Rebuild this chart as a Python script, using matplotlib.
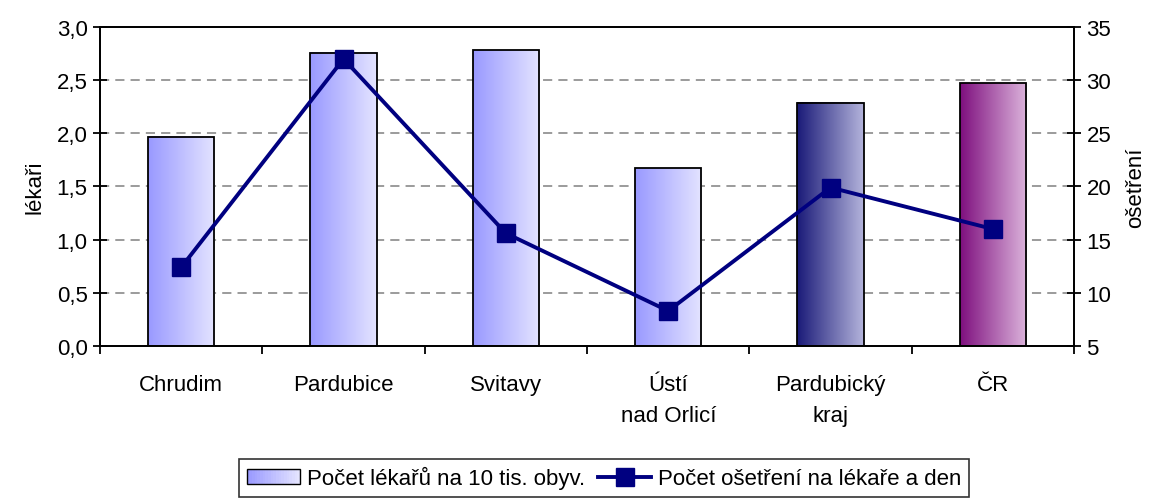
import numpy as np
import matplotlib.pyplot as plt
from matplotlib.colors import LinearSegmentedColormap
from matplotlib.patches import Rectangle
from matplotlib.legend_handler import HandlerBase
from matplotlib.lines import Line2D

plt.rcParams['font.family'] = ['Liberation Sans', 'DejaVu Sans']
plt.rcParams['font.size'] = 16

# data
categories = ['Chrudim', 'Pardubice', 'Svitavy', 'Ústí\nnad Orlicí', 'Pardubický\nkraj', 'ČR']
lekari = [1.97, 2.76, 2.78, 1.67, 2.29, 2.47]
osetreni = [12.4, 32.0, 15.6, 8.3, 19.9, 16.0]

# gradient colours (left -> right) per bar
light = ('#9999ff', '#e4e4ff')
grads = [light, light, light, light, ('#1a1a78', '#b4b4dc'), ('#7e0f7e', '#dcb4dc')]

fig = plt.figure(figsize=(11.58, 5.02), dpi=100)
ax = fig.add_axes([0.0864, 0.3088, 0.8411, 0.6354])
ax2 = ax.twinx()

x = np.arange(len(categories))
w = 0.41
grad = np.linspace(0, 1, 256).reshape(1, -1)
for xi, v, (c0, c1) in zip(x, lekari, grads):
    cmap = LinearSegmentedColormap.from_list('g', [c0, c1])
    ax.imshow(grad, cmap=cmap, extent=[xi - w / 2, xi + w / 2, 0, v],
              aspect='auto', zorder=2, interpolation='bilinear')
    ax.add_patch(Rectangle((xi - w / 2, 0), w, v, facecolor='none',
                           edgecolor='black', linewidth=1.3, zorder=3))

ax.set_xlim(-0.5, len(categories) - 0.5)
ax.set_ylim(0, 3.0)
ax.set_yticks(np.arange(0, 3.01, 0.5))
ax.set_yticklabels([f'{t:.1f}'.replace('.', ',') for t in np.arange(0, 3.01, 0.5)])
for t in np.arange(0.5, 2.6, 0.5):
    ax.axhline(t, color='#808080', linestyle=(0, (6, 4)), linewidth=1.1, zorder=1)

ax.set_xticks(x)
ax.set_xticklabels(categories, linespacing=1.65)
ax.set_xticks(np.arange(-0.5, len(categories), 1), minor=True)
ax.tick_params(axis='x', which='major', length=0, pad=20)
ax.tick_params(axis='x', which='minor', length=6, width=1.3, direction='out')
ax.tick_params(axis='y', direction='inout', length=10, width=1.3, pad=4)
ax.set_ylabel('lékaři', labelpad=8)

ax2.plot(x, osetreni, color='#000080', linewidth=2.8, marker='s', markersize=12.5,
         zorder=5)
ax2.set_ylim(5, 35)
ax2.set_yticks(np.arange(5, 36, 5))
ax2.tick_params(axis='y', direction='inout', length=10, width=1.3, pad=4)
ax2.set_ylabel('ošetření', labelpad=10)

for a in (ax, ax2):
    for s in a.spines.values():
        s.set_linewidth(1.3)


class GradHandler(HandlerBase):
    def create_artists(self, legend, orig, xd, yd, width, height, fontsize, trans):
        cols = LinearSegmentedColormap.from_list('g', list(light))
        n = 20
        arts = []
        for i in range(n):
            arts.append(Rectangle((xd + width * i / n, yd), width / n + 0.3, height,
                                  facecolor=cols(i / (n - 1)), edgecolor='none',
                                  transform=trans))
        arts.append(Rectangle((xd, yd), width, height, facecolor='none',
                              edgecolor='black', linewidth=1.0, transform=trans))
        return arts


bar_handle = Rectangle((0, 0), 1, 1)
line_handle = Line2D([], [], color='#000080', linewidth=2.8, marker='s', markersize=12.5)
leg = fig.legend([bar_handle, line_handle],
                 ['Počet lékařů na 10 tis. obyv.', 'Počet ošetření na lékaře a den'],
                 handler_map={Rectangle: GradHandler()},
                 loc='center', bbox_to_anchor=(0.5216, 0.046), ncol=2,
                 frameon=True, fancybox=False, edgecolor='black',
                 handlelength=2.4, handletextpad=0.3, columnspacing=0.6,
                 borderpad=0.35, fontsize=16)
leg.get_frame().set_linewidth(1.2)

fig.savefig('out.png', dpi=100)
